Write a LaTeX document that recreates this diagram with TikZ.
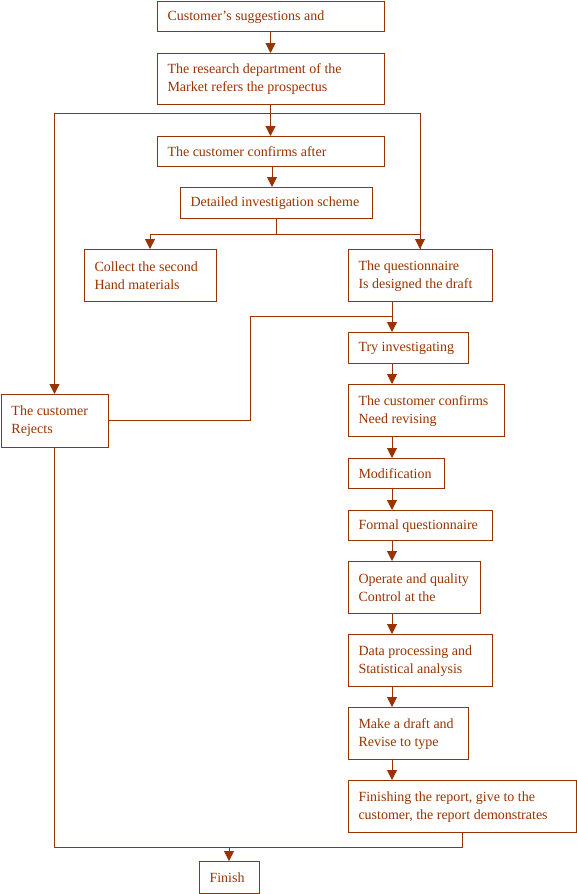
\documentclass[tikz,border=0pt]{standalone}
\usepackage{fontspec}
\setmainfont{Liberation Serif}
\usetikzlibrary{arrows.meta}
\definecolor{brn}{RGB}{153,51,0}
\newcommand\bx[6]{%
  \node[box,anchor=north west,minimum width={#4-#2},minimum height={#5-#3}] (#1) at (#2,#3) {};
  \node[txt,anchor=west] (#1t) at ([xshift=10.5pt,yshift=-1pt]#1.west) {#6};}
\begin{document}
\begin{tikzpicture}[x=1pt,y=-1pt,
  box/.style={draw=brn,line width=1pt,rectangle,inner sep=0pt,outer sep=0pt},
  txt/.style={inner sep=0pt,outer sep=0pt,align=left,text=brn,font=\fontsize{14}{18}\selectfont},
  ln/.style={draw=brn,line width=1pt},
  arr/.style={ln,-{Triangle[width=10pt,length=10pt]}}]
\useasboundingbox (0,0) rectangle (577,894);
\bx{b1}{157}{1}{384}{31}{Customer’s suggestions and}
\bx{b2}{157}{53}{384}{104}{The research department of the\\Market refers the prospectus}
\bx{b3}{157}{136}{384}{166}{The customer confirms after}
\bx{b4}{180}{187}{372}{218}{Detailed investigation scheme}
\bx{b5}{84}{249}{216}{301}{Collect the second\\Hand materials}
\bx{b6}{348}{249}{492}{301}{The questionnaire\\Is designed the draft}
\bx{b7}{348}{332}{468}{363}{Try investigating}
\bx{b8}{348}{384}{504}{436}{The customer confirms\\Need revising}
\bx{b9}{348}{458}{444}{488}{Modification}
\bx{b10}{348}{510}{492}{540}{Formal questionnaire}
\bx{b11}{348}{561}{480}{613}{Operate and quality\\Control at the}
\bx{b12}{348}{634}{492}{686}{Data processing and\\Statistical analysis}
\bx{b13}{348}{707}{468}{759}{Make a draft and\\Revise to type}
\bx{b14}{348}{780}{576}{832}{Finishing the report, give to the\\customer, the report demonstrates}
\bx{fin}{199}{861}{259}{893}{Finish}
\bx{rej}{1}{394}{108}{447}{The customer\\Rejects}
\coordinate (ax) at (392,0);
\coordinate (j1) at (270.5,113);
\coordinate (j2) at (229,234);
\coordinate (j3) at (250,316);
\coordinate (j4) at (229,847);
% main spine
\draw[arr] (b1.south) -- (b2.north);
\draw[arr] (b2.south) -- (b3.north);
\draw[arr] (b3.south -| 272,0) -- (b4.north -| 272,0);
\draw[ln] (j1) -| (b6.north);
\draw[arr] (j1 -| b6.north) -- (b6.north);
\draw[arr] (j1) -| (rej.north);
\draw[ln] (b4.south) |- (b5.north |- j2);
\draw[arr] (b5.north |- j2) -- (b5.north);
\draw[ln] (b4.south |- j2) -- (b6.north |- j2);
% right column
\draw[arr] (b6.south -| ax) -- (b7.north -| ax);
\draw[ln] (rej.east) -| (j3) -- (j3 -| ax);
\draw[arr] (b7.south -| ax) -- (b8.north -| ax);
\draw[arr] (b8.south -| ax) -- (b9.north -| ax);
\draw[arr] (b9.south -| ax) -- (b10.north -| ax);
\draw[arr] (b10.south -| ax) -- (b11.north -| ax);
\draw[arr] (b11.south -| ax) -- (b12.north -| ax);
\draw[arr] (b12.south -| ax) -- (b13.north -| ax);
\draw[arr] (b13.south -| ax) -- (b14.north -| ax);
% bottom
\draw[ln] (rej.south) |- (fin.north |- j4);
\draw[ln] (b14.south) |- (fin.north |- j4);
\draw[arr] (fin.north |- j4) -- (fin.north);
\end{tikzpicture}
\end{document}
